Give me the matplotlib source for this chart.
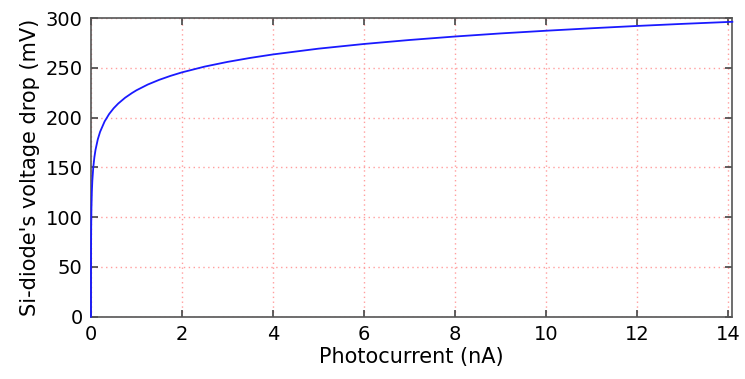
import matplotlib
matplotlib.use("Agg")
import matplotlib.pyplot as plt

# Photocurrent (nA) and the resulting Si-diode voltage drop (mV)
photocurrent_na = [0.0, 0.001, 0.002, 0.005, 0.01, 0.02, 0.03, 0.05, 0.075, 0.1,
                   0.15, 0.2, 0.3, 0.4, 0.5, 0.6, 0.75, 0.9, 1.0, 1.25, 1.5,
                   1.75, 2.0, 2.5, 3.0, 3.5, 4.0, 5.0, 6.0, 7.0, 8.0, 9.0,
                   10.0, 11.0, 12.0, 13.0, 14.0, 14.1]
voltage_mv = [0.0, 51.6, 68.5, 90.4, 108.1, 126.0, 136.5, 149.6, 160.1, 167.6,
              178.1, 185.6, 196.1, 203.6, 209.4, 214.1, 219.9, 224.6, 227.4, 233.2, 237.9,
              241.9, 245.4, 251.2, 255.9, 259.9, 263.4, 269.2, 273.9, 277.9, 281.4, 284.5,
              287.2, 289.7, 292.0, 294.1, 296.0, 296.2]

x_ticks = [0, 2, 4, 6, 8, 10, 12, 14]
y_ticks = [0, 50, 100, 150, 200, 250, 300]

plt.rcParams["font.family"] = ["DejaVu Sans"]

fig = plt.figure(figsize=(7.45, 3.79), dpi=100)
ax = fig.add_axes([0.1221, 0.1644, 0.983 - 0.1221, 0.9525 - 0.1644])

ax.plot(photocurrent_na, voltage_mv, color="#1a1aff", linewidth=1.3,
        zorder=4, clip_on=False)

ax.set_xlim(0, 14.1)
ax.set_ylim(0, 300)
ax.set_xticks(x_ticks)
ax.set_yticks(y_ticks)

ax.grid(True, color="#ff9e9e", linestyle=(0, (1, 2.5)), linewidth=1.0)

for s in ax.spines.values():
    s.set_color("#555555")
    s.set_linewidth(1.2)
    s.set_zorder(3)

ax.tick_params(direction="in", length=5, width=1.2, color="#444444",
               top=True, right=True, labelsize=14, pad=6)

ax.set_xlabel("Photocurrent (nA)", fontsize=15, labelpad=2)
ax.set_ylabel("Si-diode's voltage drop (mV)", fontsize=15, labelpad=4)

fig.savefig("out.png", dpi=100)
